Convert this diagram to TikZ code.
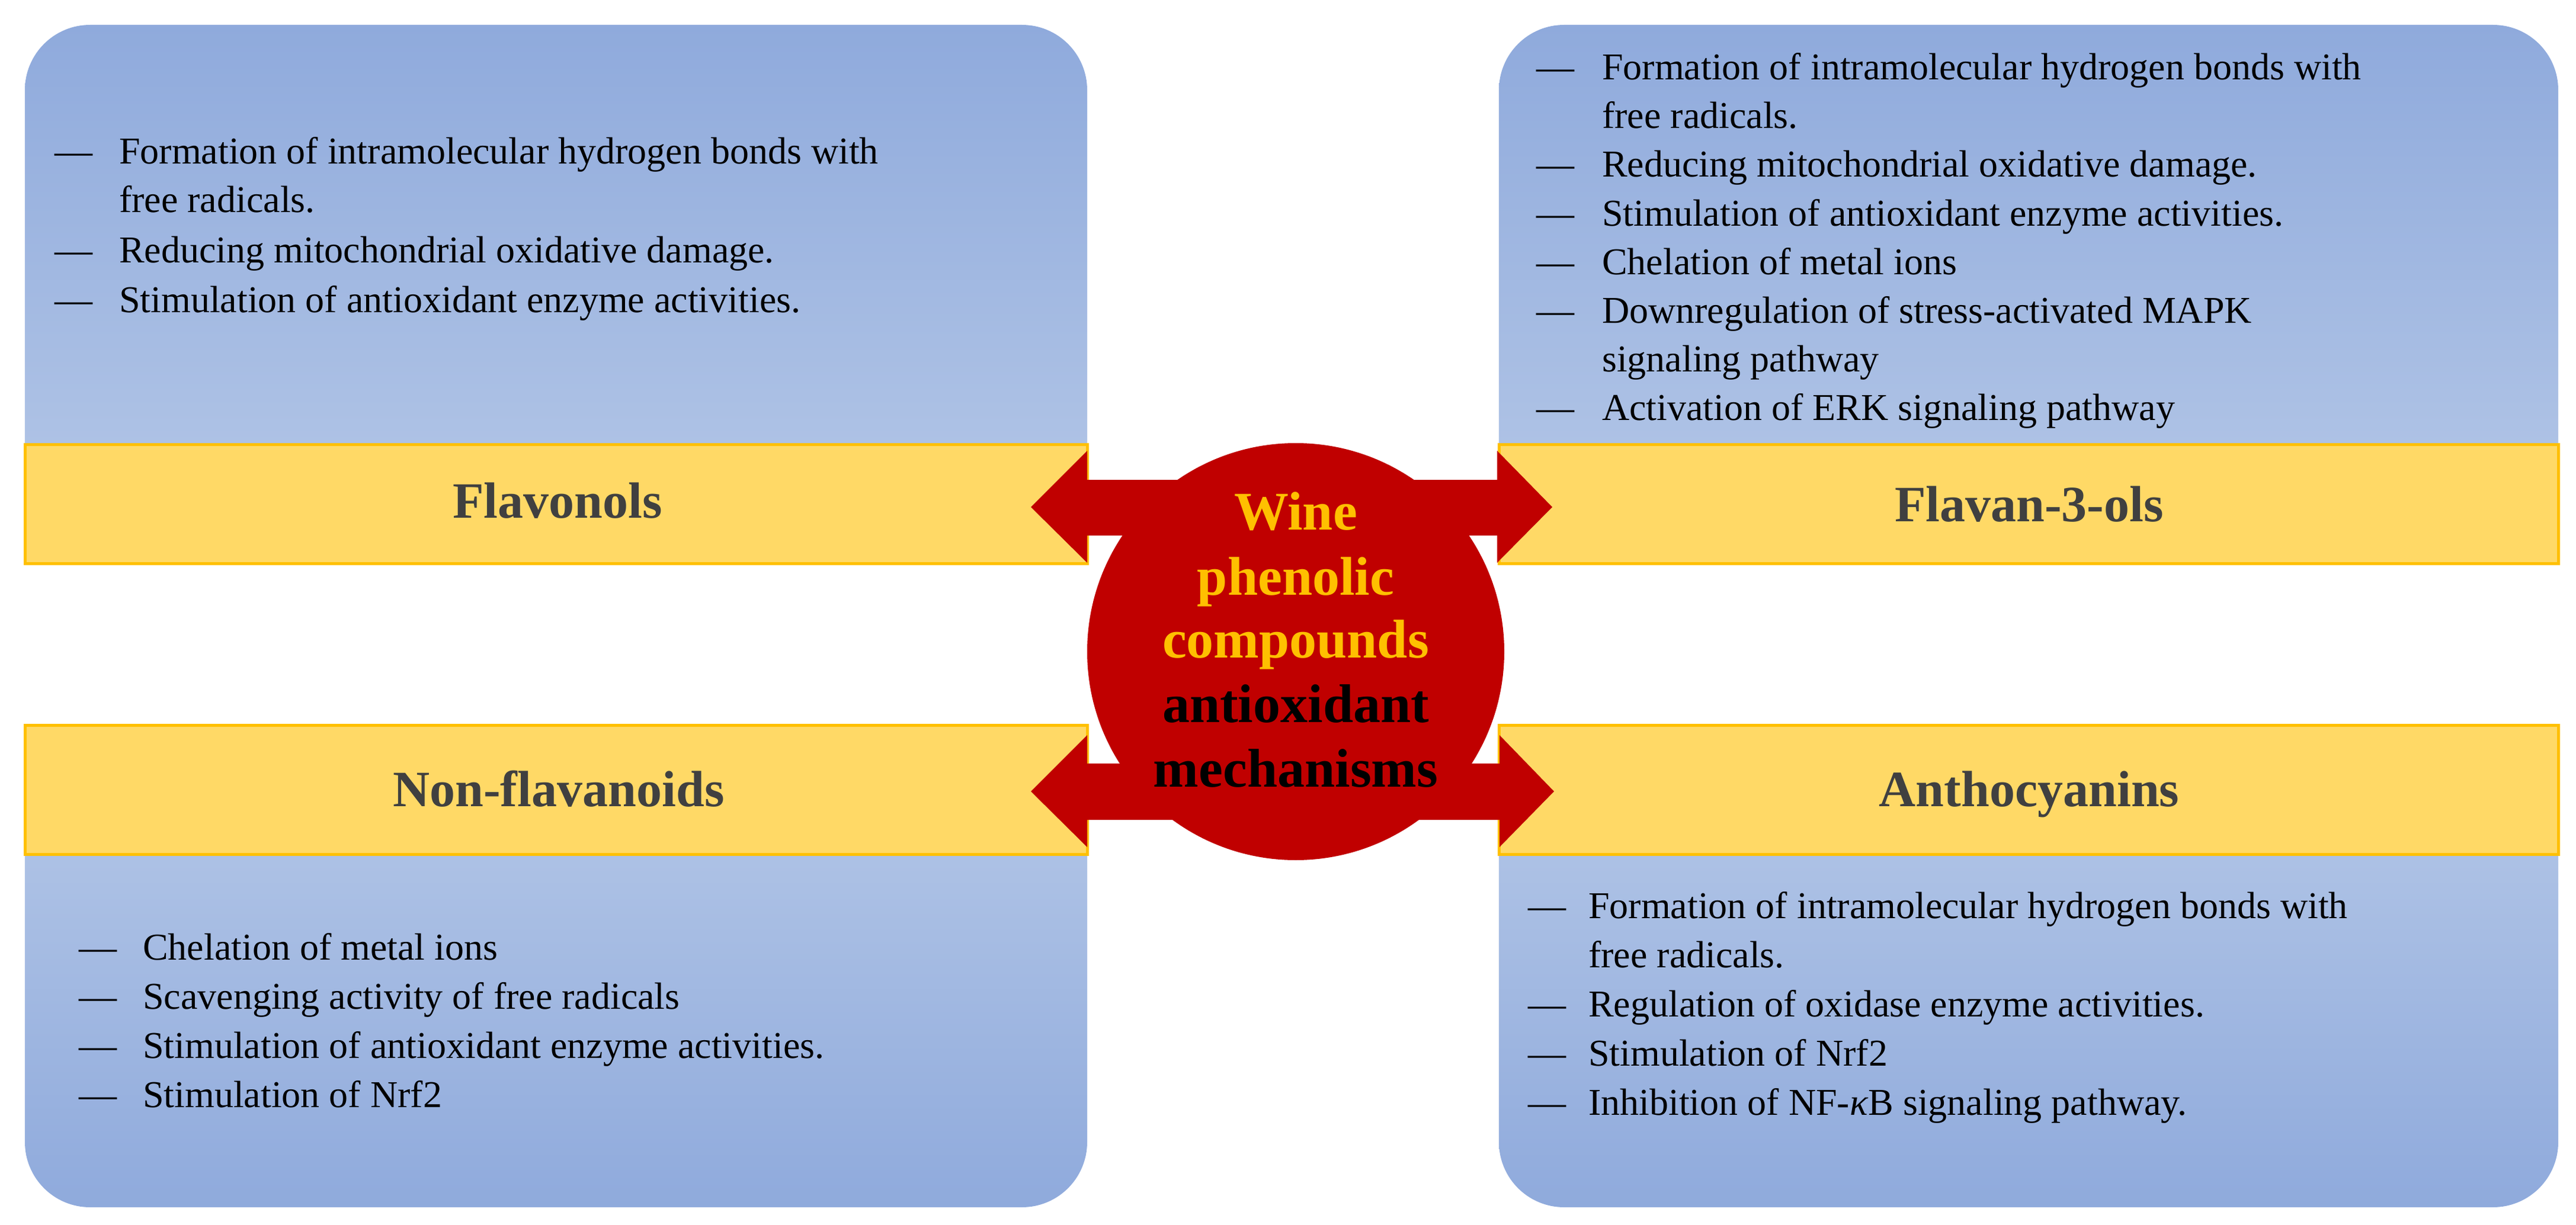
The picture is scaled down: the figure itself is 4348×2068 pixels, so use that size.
\documentclass[tikz,border=0pt]{standalone}
\usepackage{fontspec}
\setmainfont{Liberation Serif}
\definecolor{bluetop}{HTML}{8FAADC}
\definecolor{bluebot}{HTML}{B4C7E7}
\definecolor{barfill}{HTML}{FFD966}
\definecolor{barline}{HTML}{FFC000}
\definecolor{wred}{HTML}{C00000}
\definecolor{ttl}{HTML}{404040}
\begin{document}
\begin{tikzpicture}[x=1pt,y=-1pt,
  bar/.style={fill=barfill,draw=barline,line width=5pt},
  itm/.style={anchor=base west,inner sep=0pt,font=\fontsize{64}{80}\selectfont},
  ttlstyle/.style={anchor=base,inner sep=0pt,text=ttl,font=\fontsize{86}{100}\selectfont\bfseries},
  ctr/.style={anchor=base,inner sep=0pt,font=\fontsize{92}{108}\selectfont\bfseries},
  arr/.style={fill=wred}]
\useasboundingbox (0,0) rectangle (4348,2068);
% boxes
\shade[top color=bluetop,bottom color=bluebot,rounded corners=110] (42,42) rectangle (1835,900);
\shade[top color=bluetop,bottom color=bluebot,rounded corners=110] (2530,42) rectangle (4318,900);
\shade[top color=bluebot,bottom color=bluetop,rounded corners=110] (42,1300) rectangle (1835,2038);
\shade[top color=bluebot,bottom color=bluetop,rounded corners=110] (2530,1300) rectangle (4318,2038);
% bars
\node[bar,minimum width=1793,minimum height=201,inner sep=0pt] (b1) at (938.5,850.5) {};
\node[bar,minimum width=1788,minimum height=201,inner sep=0pt] (b2) at (3424,850.5) {};
\node[bar,minimum width=1793,minimum height=218,inner sep=0pt] (b3) at (938.5,1333) {};
\node[bar,minimum width=1788,minimum height=218,inner sep=0pt] (b4) at (3424,1333) {};
% circle
\node[circle,fill=wred,minimum size=704,inner sep=0pt] (c) at (2187,1100) {};
% arrows
\fill[arr] (1740,856) -- (1835,761) -- (1835,810) -- (2527,810) -- (2527,761) -- (2620,856) -- (2527,950) -- (2527,904) -- (1835,904) -- (1835,950) -- cycle;
\fill[arr] (1740,1336) -- (1835,1241) -- (1835,1289) -- (2531,1289) -- (2531,1241) -- (2623,1336) -- (2531,1430) -- (2531,1384) -- (1835,1384) -- (1835,1430) -- cycle;
% centre text
\node[ctr,text=barline] (w1) at (2187,894) {Wine};
\node[ctr,text=barline] (w2) at (2187,1004) {phenolic};
\node[ctr,text=barline] (w3) at (2187,1110) {compounds};
\node[ctr,text=black] (w4) at (2187,1219) {antioxidant};
\node[ctr,text=black] (w5) at (2187,1328) {mechanisms};
% titles
\node[ttlstyle] (t1) at (941,874) {Flavonols};
\node[ttlstyle] (t2) at (3425,880) {Flavan-3-ols};
\node[ttlstyle] (t3) at (943,1361) {Non-flavanoids};
\node[ttlstyle] (t4) at (3425,1361) {Anthocyanins};
% top left
\node[itm] (a1d) at (92,277) {—};
\node[itm] (a1) at (201,277) {Formation of intramolecular hydrogen bonds with};
\node[itm] (a1b) at (201,359) {free radicals.};
\node[itm] (a2d) at (92,443) {—};
\node[itm] (a2) at (201,443) {Reducing mitochondrial oxidative damage.};
\node[itm] (a3d) at (92,527) {—};
\node[itm] (a3) at (201,527) {Stimulation of antioxidant enzyme activities.};
% top right
\node[itm] (r1d) at (2593,135) {—};
\node[itm] (r1) at (2704,135) {Formation of intramolecular hydrogen bonds with};
\node[itm] (r1b) at (2704,217) {free radicals.};
\node[itm] (r2d) at (2593,299) {—};
\node[itm] (r2) at (2704,299) {Reducing mitochondrial oxidative damage.};
\node[itm] (r3d) at (2593,381) {—};
\node[itm] (r3) at (2704,381) {Stimulation of antioxidant enzyme activities.};
\node[itm] (r4d) at (2593,463) {—};
\node[itm] (r4) at (2704,463) {Chelation of metal ions};
\node[itm] (r5d) at (2593,545) {—};
\node[itm] (r5) at (2704,545) {Downregulation of stress-activated MAPK};
\node[itm] (r5b) at (2704,627) {signaling pathway};
\node[itm] (r6d) at (2593,709) {—};
\node[itm] (r6) at (2704,709) {Activation of ERK signaling pathway};
% bottom left
\node[itm] (l1d) at (133,1620) {—};
\node[itm] (l1) at (241,1620) {Chelation of metal ions};
\node[itm] (l2d) at (133,1703) {—};
\node[itm] (l2) at (241,1703) {Scavenging activity of free radicals};
\node[itm] (l3d) at (133,1786) {—};
\node[itm] (l3) at (241,1786) {Stimulation of antioxidant enzyme activities.};
\node[itm] (l4d) at (133,1869) {—};
\node[itm] (l4) at (241,1869) {Stimulation of Nrf2};
% bottom right
\node[itm] (n1d) at (2579,1550) {—};
\node[itm] (n1) at (2681,1550) {Formation of intramolecular hydrogen bonds with};
\node[itm] (n1b) at (2681,1633) {free radicals.};
\node[itm] (n2d) at (2579,1716) {—};
\node[itm] (n2) at (2681,1716) {Regulation of oxidase enzyme activities.};
\node[itm] (n3d) at (2579,1799) {—};
\node[itm] (n3) at (2681,1799) {Stimulation of Nrf2};
\node[itm] (n4d) at (2579,1882) {—};
\node[itm] (n4) at (2681,1882) {Inhibition of NF-\textit{κ}B signaling pathway.};
\end{tikzpicture}
\end{document}
